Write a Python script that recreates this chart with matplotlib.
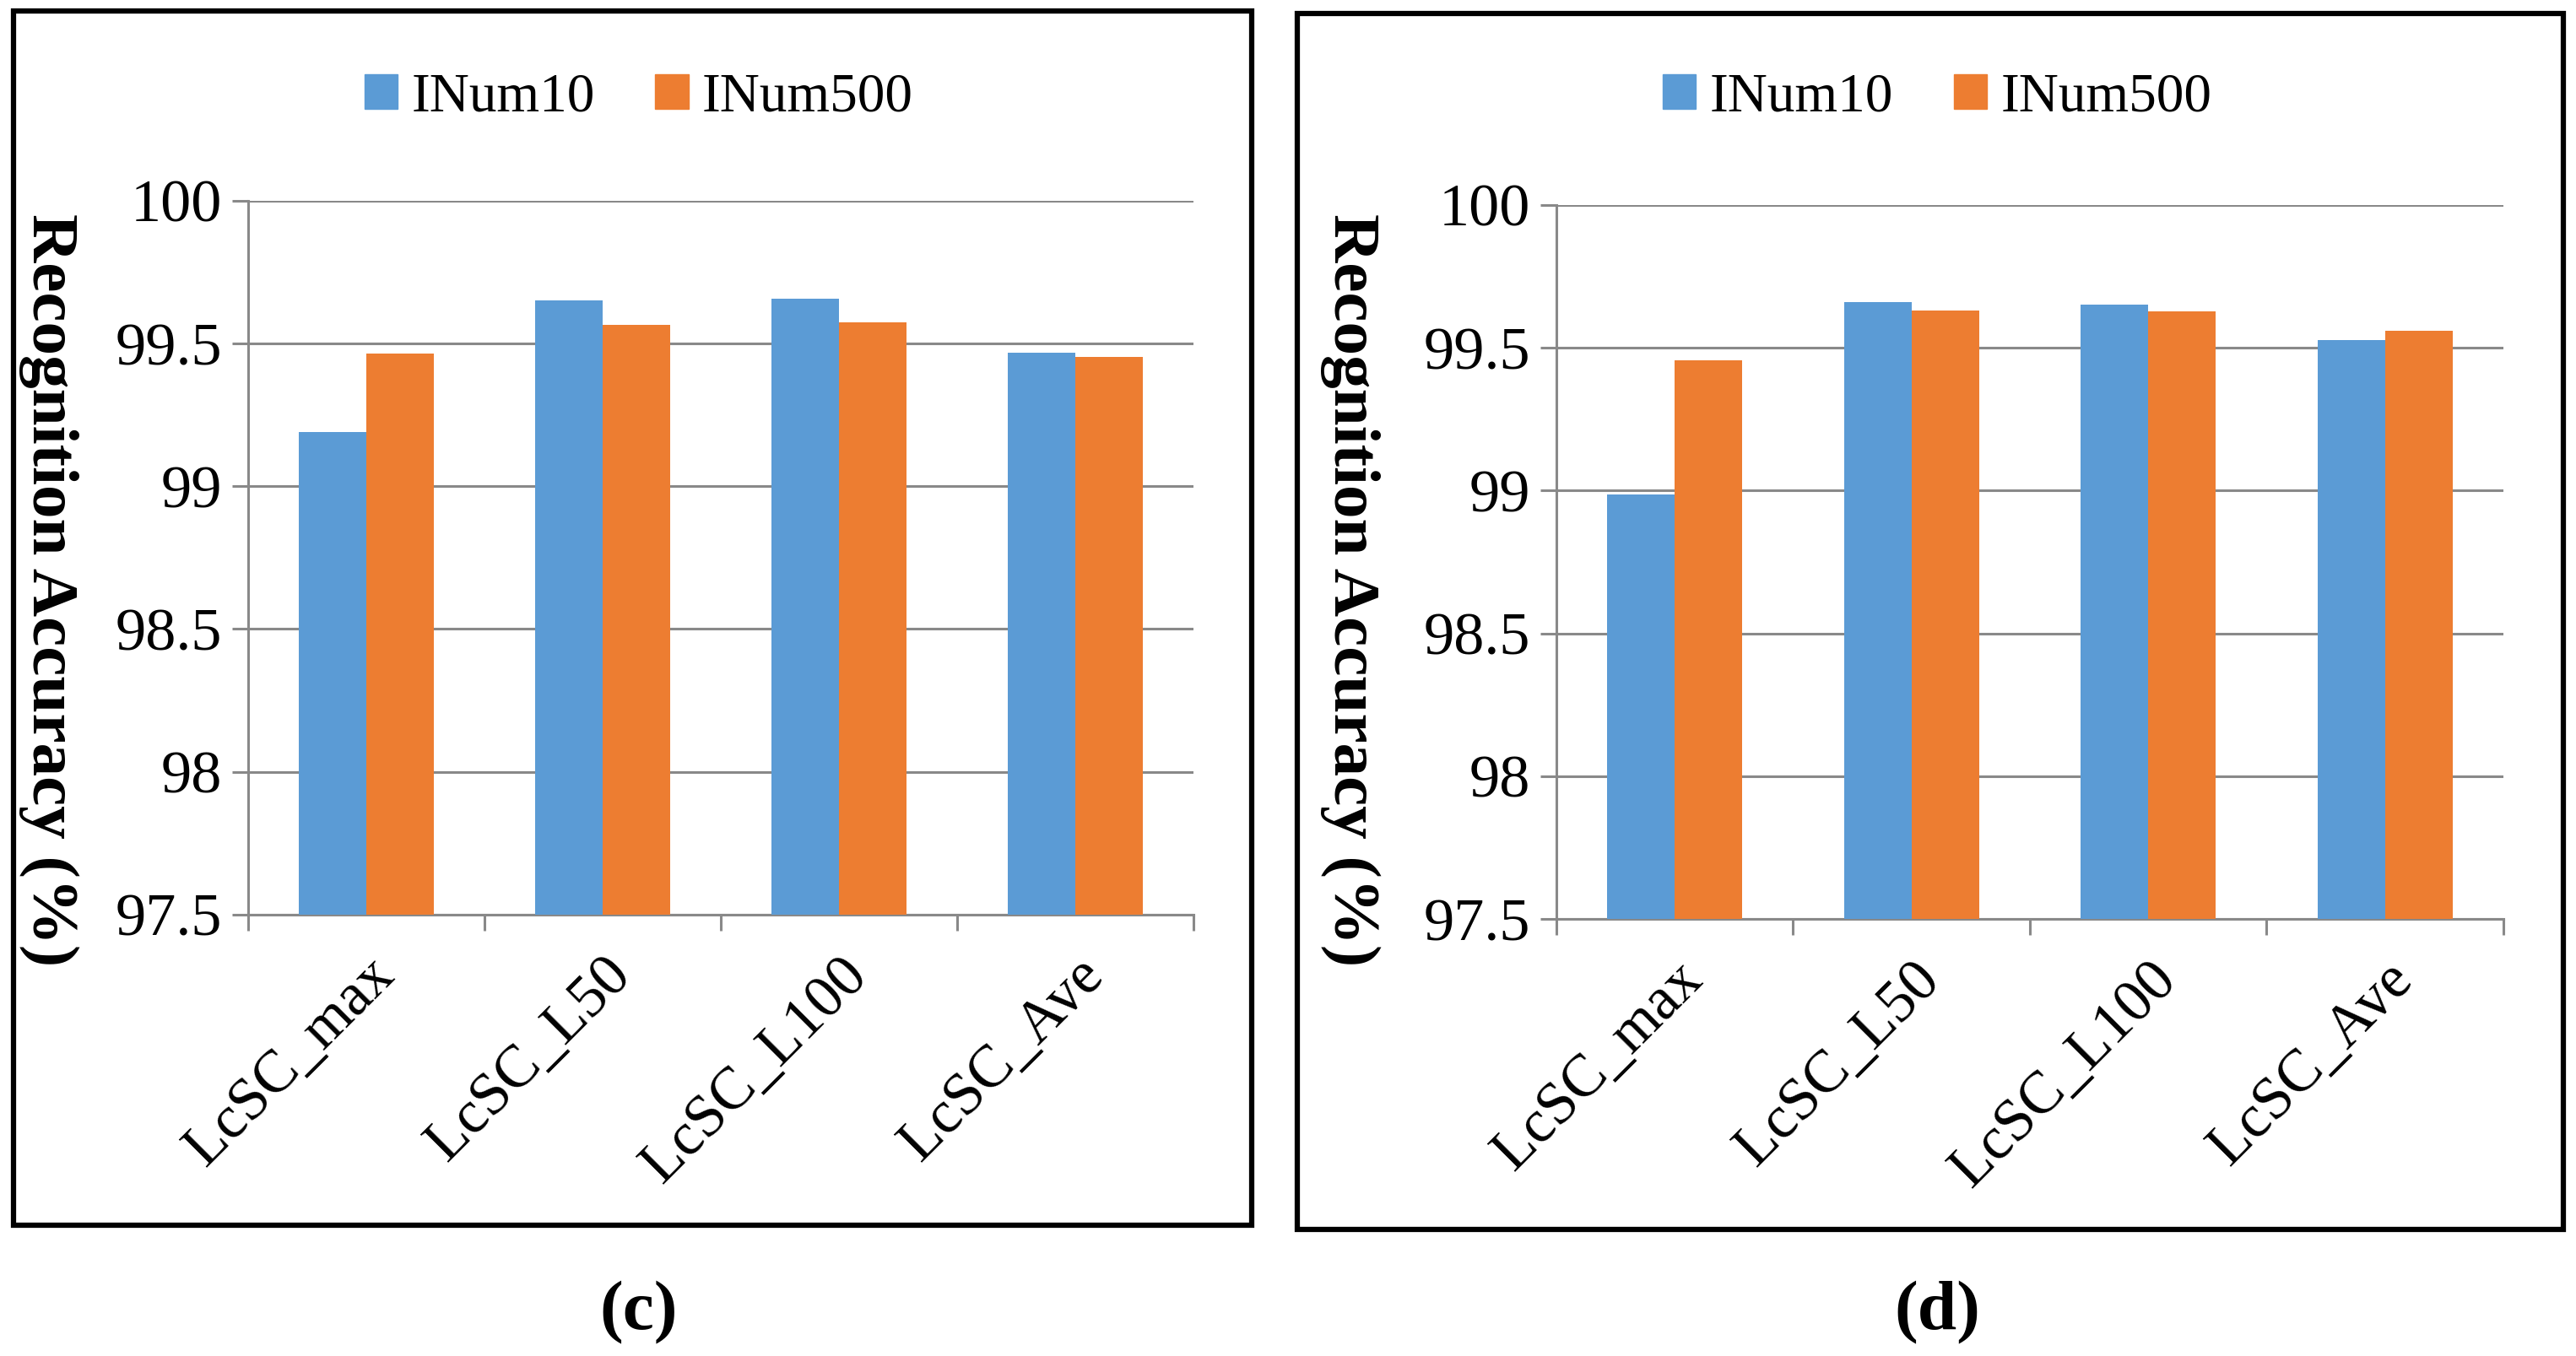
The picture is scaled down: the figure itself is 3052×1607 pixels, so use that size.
import matplotlib
matplotlib.use("Agg")
import matplotlib.pyplot as plt
from matplotlib.patches import Rectangle, Patch
import numpy as np

plt.rcParams['font.family'] = ['Liberation Serif', 'DejaVu Serif']

categories = ["LcSC_max", "LcSC_L50", "LcSC_L100", "LcSC_Ave"]
series_names = ["INum10", "INum500"]
# panel (c)
c_inum10 = [99.19, 99.65, 99.656, 99.469]
c_inum500 = [99.464, 99.564, 99.573, 99.452]
# panel (d)
d_inum10 = [98.987, 99.659, 99.650, 99.526]
d_inum500 = [99.455, 99.632, 99.629, 99.561]
y_ticks = [97.5, 98, 98.5, 99, 99.5, 100]
y_ticklabels = ["97.5", "98", "98.5", "99", "99.5", "100"]
panel_labels = ["(c)", "(d)"]

blue = "#5B9BD5"
orange = "#ED7D31"
grid_col = "#898989"

fig = plt.figure(figsize=(30.52, 16.07), dpi=100)

def draw_panel(rect, box, v1, v2, legx, ylabx, lab):
    # outer frame
    fig.patches.append(Rectangle((box[0], box[1]), box[2], box[3], transform=fig.transFigure,
                                 fill=False, lw=4.5, ec="black"))
    ax = fig.add_axes(rect)
    x = np.arange(len(categories))
    w = 0.285
    ax.bar(x - w/2, np.array(v1) - 97.5, w, bottom=97.5, color=blue, zorder=3)
    ax.bar(x + w/2, np.array(v2) - 97.5, w, bottom=97.5, color=orange, zorder=3)
    ax.set_xlim(-0.5, len(categories) - 0.5)
    ax.set_ylim(97.5, 100)
    ax.set_yticks(y_ticks)
    ax.set_yticklabels(y_ticklabels, fontsize=52)
    ax.yaxis.grid(True, color=grid_col, lw=2.2, zorder=0)
    ax.set_axisbelow(True)
    ax.tick_params(axis='y', length=14, width=2.2, color=grid_col, pad=8)
    ax.set_xticks(x)
    ax.set_xticklabels(categories, fontsize=51, rotation=45, ha='right', rotation_mode='anchor')
    ax.tick_params(axis='x', which='major', length=0, pad=28)
    ax.set_xticks(np.arange(-0.5, len(categories)), minor=True)
    ax.tick_params(axis='x', which='minor', length=14, width=2.2, color=grid_col)
    for s in ['top', 'right']:
        ax.spines[s].set_visible(False)
    for s in ['left', 'bottom']:
        ax.spines[s].set_color(grid_col)
        ax.spines[s].set_linewidth(2.2)
    fig.text(ylabx, 0.565, "Recognition Accuracy (%)", rotation=-90, fontsize=57,
             fontweight='bold', ha='center', va='center')
    handles = [Patch(color=blue, label=series_names[0]), Patch(color=orange, label=series_names[1])]
    fig.legend(handles=handles, loc='center', bbox_to_anchor=(legx, 0.928), ncol=2, frameon=False,
               fontsize=47, handlelength=0.6, handleheight=0.6, handletextpad=0.25, columnspacing=1.1)
    fig.text(legx, 0.032, lab, fontsize=60, fontweight='bold', ha='center', va='center')
    return ax

draw_panel([0.0963, 0.3255, 0.367, 0.5265], [0.0052, 0.0964, 0.4807, 0.8955],
           c_inum10, c_inum500, 0.248, 0.019, panel_labels[0])
draw_panel([0.6042, 0.3223, 0.3676, 0.5265], [0.5036, 0.0934, 0.4915, 0.8967],
           d_inum10, d_inum500, 0.752, 0.524, panel_labels[1])

fig.savefig("out.png", dpi=100)
